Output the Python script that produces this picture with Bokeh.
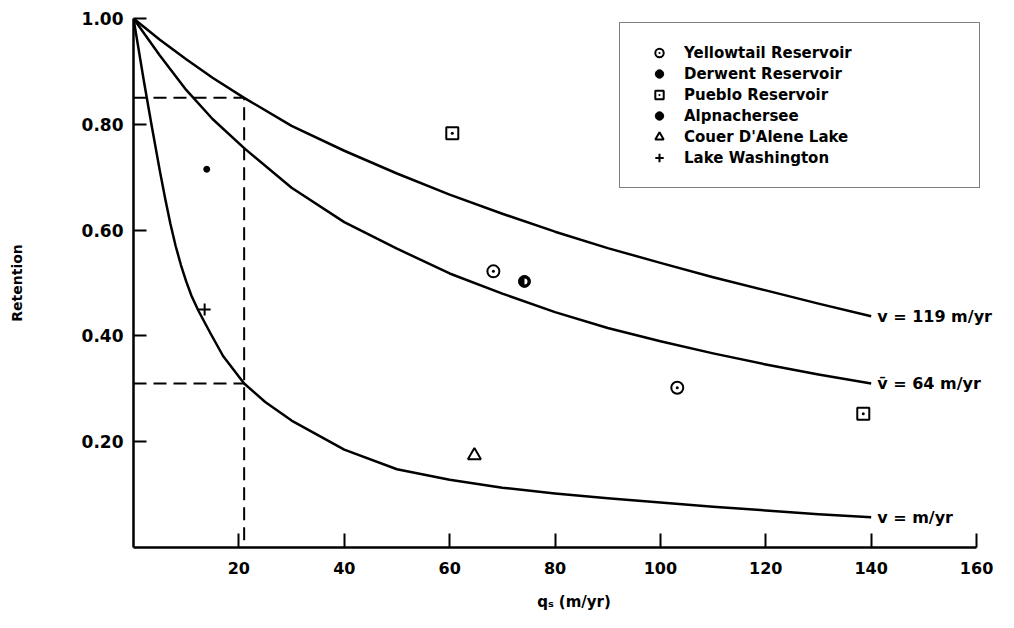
import math
from bokeh.plotting import figure
from bokeh.models import Range1d, FixedTicker, Legend, LegendItem, Label
from bokeh.embed import file_html
from bokeh.resources import INLINE

FONT = "DejaVu Sans"

# ---- curves: retention vs surface overflow rate q_s ----
qs_v119 = [0, 5, 10, 15, 21, 30, 40, 50, 60, 70, 80, 90, 100, 110, 120, 130, 140]
R_v119 = [1.0, 0.96, 0.923, 0.888, 0.85, 0.797, 0.75, 0.707, 0.667, 0.631, 0.597, 0.566, 0.538, 0.511, 0.486, 0.461, 0.437]

qs_v64 = [0, 5, 10, 15, 21, 30, 40, 50, 60, 70, 80, 90, 100, 110, 120, 130, 140]
R_v64 = [1.0, 0.93, 0.865, 0.81, 0.755, 0.68, 0.615, 0.565, 0.518, 0.48, 0.445, 0.415, 0.39, 0.367, 0.346, 0.327, 0.31]

qs_vlow = [0, 2, 3.4, 5, 6, 7, 8, 9, 10, 11, 12.3, 14.6, 17, 21, 25, 30, 40, 50, 60, 70, 80, 90, 100, 110, 120, 130, 140]
R_vlow = [1.0, 0.88, 0.80, 0.712, 0.66, 0.612, 0.57, 0.534, 0.503, 0.476, 0.448, 0.405, 0.362, 0.31, 0.275, 0.24, 0.185,
          0.148, 0.128, 0.113, 0.102, 0.093, 0.085, 0.077, 0.07, 0.063, 0.057]

curve_labels = ["v = 119  m/yr", "v\u0304 = 64  m/yr", "v =  m/yr"]

# dashed reference construction
ref_qs = 21
ref_R_high = 0.85
ref_R_low = 0.31

# ---- observed lakes / reservoirs ----
yellowtail_qs = [68.3, 103.2]
yellowtail_R = [0.522, 0.302]
derwent_qs = [13.9]
derwent_R = [0.715]
pueblo_qs = [60.5, 138.5]
pueblo_R = [0.783, 0.253]
alpnach_qs = [74.2]
alpnach_R = [0.503]
couer_qs = [64.7]
couer_R = [0.174]
washington_qs = [13.5]
washington_R = [0.45]

legend_labels = ["Yellowtail Reservoir", "Derwent Reservoir", "Pueblo Reservoir",
                 "Alpnachersee", "Couer D'Alene Lake", "Lake Washington"]

x_ticks = [20, 40, 60, 80, 100, 120, 140, 160]
y_ticks = [0.2, 0.4, 0.6, 0.8, 1.0]
y_tick_labels = ["0.20", "0.40", "0.60", "0.80", "1.00"]

p = figure(width=1014, height=628, output_backend="svg", toolbar_location=None,
           x_range=Range1d(0, 167.2), y_range=Range1d(0, 1.0),
           min_border_left=133, min_border_right=0, min_border_top=18, min_border_bottom=81)
p.xgrid.visible = False
p.ygrid.visible = False
p.outline_line_color = None
p.background_fill_color = "white"
p.border_fill_color = "white"

for ax in (p.xaxis[0], p.yaxis[0]):
    ax.axis_line_color = "black"
    ax.axis_line_width = 2.5
    ax.major_tick_line_color = "black"
    ax.major_tick_line_width = 2
    ax.major_tick_out = 0
    ax.minor_tick_line_color = None
    ax.major_label_text_font = FONT
    ax.major_label_text_font_style = "bold"
    ax.major_label_text_color = "black"
    ax.axis_label_text_font = FONT
    ax.axis_label_text_font_style = "bold"
    ax.axis_label_text_color = "black"

p.xaxis.ticker = FixedTicker(ticks=x_ticks)
p.xaxis.bounds = (0, 160)
p.xaxis.major_tick_in = 14
p.xaxis.major_label_text_font_size = "16px"
p.xaxis.major_label_standoff = 14
p.xaxis.axis_label = "q\u209b (m/yr)"
p.xaxis.axis_label_text_font_size = "15px"
p.xaxis.axis_label_standoff = 16

p.yaxis.ticker = FixedTicker(ticks=y_ticks)
p.yaxis.major_label_overrides = {t: s for t, s in zip(y_ticks, y_tick_labels)}
p.yaxis.major_tick_in = 13
p.yaxis.major_label_text_font_size = "17px"
p.yaxis.major_label_standoff = 10
p.yaxis.axis_label = "Retention"
p.yaxis.axis_label_text_font_size = "14px"
p.yaxis.axis_label_standoff = 54

# curves
for qs, R in ((qs_v119, R_v119), (qs_v64, R_v64), (qs_vlow, R_vlow)):
    p.line(qs, R, line_color="black", line_width=2.5, line_join="round")

for qs, R, txt in ((qs_v119, R_v119, curve_labels[0]), (qs_v64, R_v64, curve_labels[1]),
                   (qs_vlow, R_vlow, curve_labels[2])):
    p.add_layout(Label(x=qs[-1], y=R[-1], x_offset=6, text=txt, text_baseline="middle",
                       text_font=FONT, text_font_style="bold", text_font_size="16px",
                       text_color="black"))

# dashed construction lines
p.line([0, ref_qs, ref_qs], [ref_R_high, ref_R_high, 0], line_color="black", line_width=2, line_dash="13 7")
p.line([0, ref_qs], [ref_R_low, ref_R_low], line_color="black", line_width=2, line_dash="13 7")

# observations
r_y = p.scatter(yellowtail_qs, yellowtail_R, marker="circle_dot", size=12, fill_color="white",
                line_color="black", line_width=2)
r_d = p.scatter(derwent_qs, derwent_R, marker="circle", size=6, fill_color="black", line_color="black")
r_p = p.scatter(pueblo_qs, pueblo_R, marker="square_dot", size=12, fill_color="white",
                line_color="black", line_width=2)
r_a = p.scatter(alpnach_qs, alpnach_R, marker="circle", size=12, fill_color="black", line_color="black")
p.wedge(alpnach_qs, alpnach_R, radius=3, radius_units="screen", start_angle=-math.pi / 2,
        end_angle=math.pi / 2, fill_color="white", line_color=None)
r_c = p.scatter(couer_qs, couer_R, marker="triangle", size=13, fill_color="white",
                line_color="black", line_width=2)
r_w = p.scatter(washington_qs, washington_R, marker="cross", size=12, line_color="black", line_width=2)

items = [LegendItem(label=lab, renderers=[r]) for lab, r in
         zip(legend_labels, [r_y, r_d, r_p, r_a, r_c, r_w])]
legend = Legend(items=items, location=(486, 359))
legend.label_text_font = FONT
legend.label_text_font_style = "bold"
legend.label_text_font_size = "15px"
legend.label_text_color = "black"
legend.border_line_color = "black"
legend.border_line_width = 1.5
legend.background_fill_color = "white"
legend.background_fill_alpha = 1
legend.padding = 19
legend.spacing = 0
legend.glyph_height = 21
legend.glyph_width = 40
legend.label_height = 21
legend.label_width = 276
legend.label_standoff = 5
legend.margin = 0
p.add_layout(legend)

open("out.html", "w").write(file_html(p, INLINE))
